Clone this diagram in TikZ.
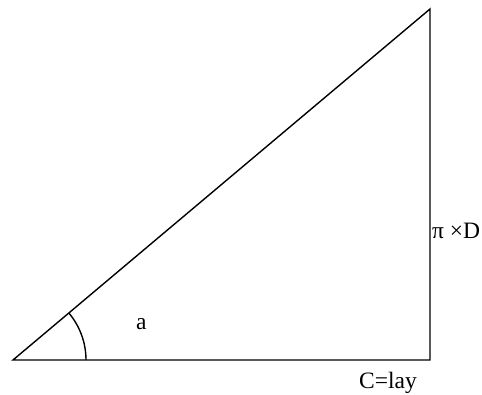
\documentclass[tikz,border=0pt]{standalone}
\usepackage{fontspec}
\setmainfont{Liberation Serif}
\begin{document}
\begin{tikzpicture}[x=1pt,y=1pt,
  edge/.style={line width=1.4pt,black},
  lbl/.style={anchor=base west,inner sep=0pt,font=\fontsize{23.5}{28}\selectfont}]
\useasboundingbox (0,0) rectangle (482,394);
\coordinate (A) at (13,34);
\coordinate (B) at (430,34);
\coordinate (C) at (430,385);
\draw[edge,line join=miter] (A) -- (B) -- (C) -- cycle;
\draw[edge] ([xshift=73pt]A) arc[start angle=0,end angle=40.1,radius=73pt];
\node[lbl] (la) at (136,65) {a};
\node[lbl] (lpi) at (432,155) {π ×D};
\node[lbl] (lc) at (359,6) {C=lay};
\end{tikzpicture}
\end{document}
